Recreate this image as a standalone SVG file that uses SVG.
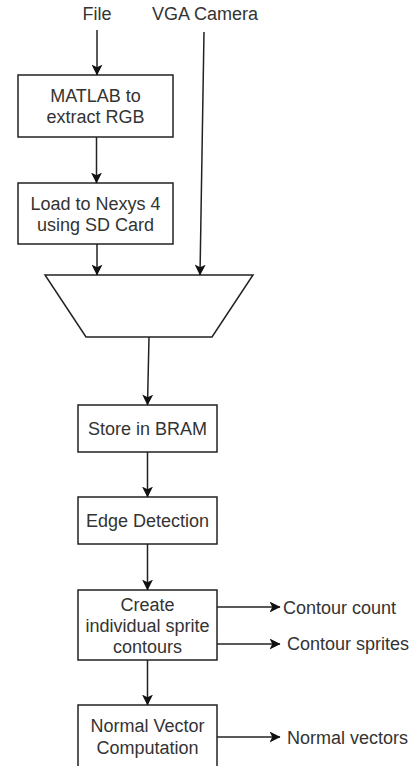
<svg xmlns="http://www.w3.org/2000/svg" width="415" height="766" viewBox="0 0 415 766">
<defs>
<style>
.box{fill:#fff;stroke:#222;stroke-width:1.5}
.t{font-family:"Liberation Sans",Arial,sans-serif;font-size:18px;fill:#333}
.c{text-anchor:middle}
.ln{fill:none;stroke:#222;stroke-width:1.5}
.arr{marker-end:url(#ah)}
</style>
<marker id="ah" viewBox="0 0 10 10" refX="9.5" refY="5" markerWidth="11" markerHeight="11" markerUnits="userSpaceOnUse" orient="auto">
<path d="M0,0 L10,5 L0,10 L2.5,5 Z" fill="#111"/>
</marker>
</defs>
<rect width="415" height="766" fill="#fff"/>
<g id="file"><text class="t c" x="97" y="20">File</text></g>
<g id="vga"><text class="t c" x="205" y="20">VGA Camera</text></g>
<g id="matlab"><rect class="box" x="18" y="75" width="155" height="62"/>
<text class="t c" x="95.5" y="102">MATLAB to</text><text class="t c" x="95.5" y="123">extract RGB</text></g>
<g id="load"><rect class="box" x="18" y="183" width="155" height="61"/>
<text class="t c" x="95.5" y="209.5">Load to Nexys 4</text><text class="t c" x="95.5" y="230.5">using SD Card</text></g>
<g id="mux"><path class="box" d="M45,275 L253,275 L212,337 L86,337 Z"/></g>
<g id="bram"><rect class="box" x="78" y="405" width="139" height="47"/>
<text class="t c" x="147.5" y="435">Store in BRAM</text></g>
<g id="edge"><rect class="box" x="78" y="497" width="139" height="47"/>
<text class="t c" x="147.5" y="527">Edge Detection</text></g>
<g id="contours"><rect class="box" x="78" y="590" width="139" height="70"/>
<text class="t c" x="147.5" y="610.5">Create</text><text class="t c" x="147.5" y="631.5">individual sprite</text><text class="t c" x="147.5" y="652.5">contours</text></g>
<g id="normal"><rect class="box" x="78" y="705" width="139" height="66"/>
<text class="t c" x="147.5" y="731.5">Normal Vector</text><text class="t c" x="147.5" y="753.5">Computation</text></g>
<g id="count"><text class="t" x="283" y="613.5">Contour count</text></g>
<g id="sprites"><text class="t" x="287" y="650">Contour sprites</text></g>
<g id="vectors"><text class="t" x="287" y="743.5">Normal vectors</text></g>
<g id="connectors">
<line class="ln arr" x1="97" y1="30" x2="97" y2="75"/>
<line class="ln arr" x1="96.5" y1="137" x2="96.5" y2="183"/>
<line class="ln arr" x1="97" y1="244" x2="97" y2="275"/>
<line class="ln arr" x1="204" y1="32" x2="200" y2="275"/>
<line class="ln arr" x1="149" y1="337" x2="147.5" y2="405"/>
<line class="ln arr" x1="147.5" y1="452" x2="147.5" y2="497"/>
<line class="ln arr" x1="147.5" y1="544" x2="147.5" y2="590"/>
<line class="ln arr" x1="147.5" y1="660" x2="147.5" y2="705"/>
<line class="ln arr" x1="217" y1="607" x2="280" y2="607"/>
<line class="ln arr" x1="217" y1="644" x2="280" y2="644"/>
<line class="ln arr" x1="217" y1="737" x2="280" y2="737"/>
</g>
</svg>
